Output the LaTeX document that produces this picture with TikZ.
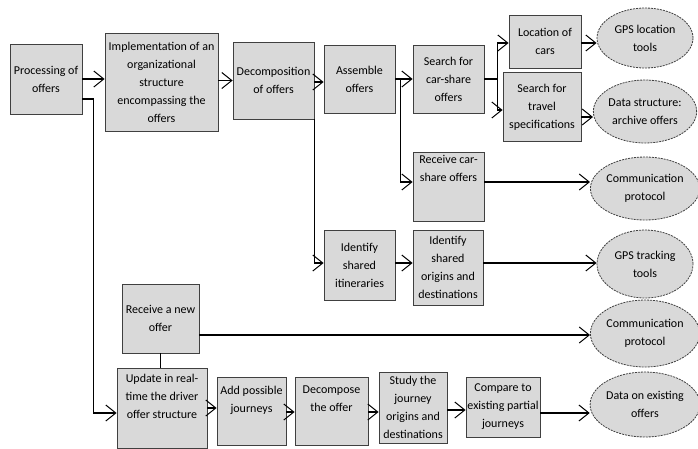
\documentclass[tikz,border=0pt]{standalone}
\usepackage{fontspec}
\setmainfont{Carlito}
\usetikzlibrary{shapes.geometric,arrows.meta}
\definecolor{boxfill}{HTML}{D9D9D9}
\definecolor{boxline}{HTML}{404040}
\tikzset{
  lbl/.style={font=\fontsize{12}{18}\selectfont},
  box/.style={draw=boxline, line width=0.8pt, fill=boxfill, align=center,
    inner sep=1pt, lbl},
  oval/.style={ellipse, draw=boxline, line width=0.8pt, dash pattern=on 2pt off 1pt,
    fill=boxfill, align=center, inner sep=0pt, minimum width=96pt, lbl},
  txt/.style={align=center, inner sep=1pt, lbl},
  arr/.style={line width=1.3pt, -{Straight Barb[length=10pt,width=16pt,line width=1pt]}},
  wire/.style={line width=1.3pt}
}
\begin{document}
\begin{tikzpicture}[x=1pt,y=-1pt]
\useasboundingbox (0,0) rectangle (698,448);

% rectangular steps
\node[box, minimum width=72pt, minimum height=70pt] (proc) at (46,79) {Processing of\\offers};
\node[box, minimum width=113pt, minimum height=98pt] (impl) at (161.5,82) {Implementation of an\\organizational\\structure\\encompassing the\\offers};
\node[box, minimum width=81pt, minimum height=77pt] (decomp) at (273.5,80.5) {Decomposition\\of offers};
\node[box, minimum width=71pt, minimum height=68pt] (assem) at (359.5,79) {Assemble\\offers};
\node[box, minimum width=71pt, minimum height=68pt] (search) at (448.5,79) {Search for\\car-share\\offers};
\node[box, minimum width=72pt, minimum height=53pt] (loc) at (545,41.5) {Location of\\cars};
\node[box, minimum width=78pt, minimum height=69pt] (travel) at (542,107) {Search for\\travel\\specifications};
\node[box, minimum width=71pt, minimum height=69pt] (recv) at (448.5,186.5) {};
\node[txt, anchor=north] (recvtxt) at ([yshift=-2pt]recv.north) {Receive car-\\share offers};
\node[box, minimum width=71pt, minimum height=70pt] (itin) at (359.5,265) {Identify\\shared\\itineraries};
\node[box, minimum width=70pt, minimum height=75pt] (orig) at (448,267.5) {Identify\\shared\\origins and\\destinations};
\node[box, minimum width=77pt, minimum height=69pt] (newoffer) at (160.5,318.5) {Receive a new\\offer};
\node[box, minimum width=90pt, minimum height=80pt] (update) at (162,408) {Update in real-\\time the driver\\offer structure\\[6pt]};
\node[box, minimum width=69pt, minimum height=68pt] (add) at (251.5,411) {Add possible\\journeys\\[6pt]};
\node[box, minimum width=73pt, minimum height=68pt] (decomp2) at (331.5,411) {Decompose\\the offer\\[6pt]};
\node[box, minimum width=68pt, minimum height=71pt] (study) at (413,407.5) {Study the\\journey\\origins and\\destinations};
\node[box, minimum width=74pt, minimum height=60pt] (compare) at (503,407) {Compare to\\existing partial\\journeys};

% resources
\node[oval, minimum height=60pt] (gpsloc) at (645,38) {GPS location\\tools};
\node[oval, minimum height=63pt] (archive) at (645,111.5) {Data structure:\\archive offers};
\node[oval, minimum height=63pt] (comm1) at (645,188.5) {Communication\\protocol};
\node[oval, minimum height=68pt] (gpstrack) at (645,264) {GPS tracking\\tools};
\node[oval, minimum height=67pt] (comm2) at (645,333.5) {Communication\\protocol};
\node[oval, minimum height=65pt] (existing) at (645,404.5) {Data on existing\\offers};

% main chain
\draw[arr] (proc.east) -- (proc.east -| impl.west);
\draw[arr] (decomp.west -| impl.east) -- (decomp.west);
\draw[arr] ([yshift=-1.5pt]decomp.east) -- ([yshift=-1.5pt]decomp.east -| assem.west);
\draw[arr] ([yshift=-20pt]proc.east) -- ++(11,0) |- ([yshift=-5pt]update.west);
\draw[arr] (decomp.south east) |- ([yshift=2pt]itin.west);

% assembling offers
\draw[arr] (assem.east) -- (assem.east -| search.west);
\draw[arr] ([xshift=5pt]assem.east) |- ([yshift=4.5pt]recv.west);
\draw[arr] (search.east) -- ++(13,0) |- ([yshift=-1.5pt]loc.west);
\draw[arr] ([xshift=13pt]search.east) |- ([yshift=-3pt]travel.west);
\draw[arr] ([yshift=-1.5pt]loc.east) -- ([yshift=-1.5pt]loc.east -| gpsloc.west);
\draw[arr] ([yshift=-10pt]travel.east) -- ([yshift=-10pt]travel.east -| archive.west);
\draw[arr] ([yshift=4.5pt]recv.east) -- ([yshift=4.5pt]recv.east -| comm1.west);

% shared itineraries
\draw[arr] ([yshift=2pt]itin.east) -- ([yshift=2pt]itin.east -| orig.west);
\draw[arr] ([yshift=4.5pt]orig.east) -- ([yshift=4.5pt]orig.east -| gpstrack.west);

% new offers
\draw[arr] ([yshift=-16.5pt]newoffer.east) -- ([yshift=-16.5pt]newoffer.east -| comm2.west);
\draw[wire] (newoffer.south) -- (newoffer.south |- update.north);
\draw[arr] (update.east) -- (update.east -| add.west);
\draw[arr] ([yshift=-1pt]add.east) -- ([yshift=-1pt]add.east -| decomp2.west);
\draw[arr] ([yshift=-1pt]decomp2.east) -- ([yshift=-1pt]decomp2.east -| study.west);
\draw[arr] ([yshift=-2.5pt]study.east) -- ([yshift=-2.5pt]study.east -| compare.west);
\draw[arr] ([yshift=-6pt]compare.east) -- ([yshift=-6pt]compare.east -| existing.west);
\end{tikzpicture}
\end{document}
